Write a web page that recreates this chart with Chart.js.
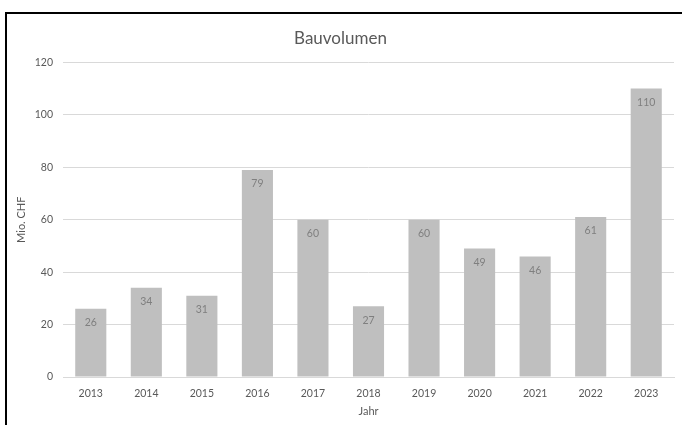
<!DOCTYPE html>
<html>
<head>
<meta charset="utf-8">
<script src="https://cdn.jsdelivr.net/npm/chart.js@4"></script>
<style>
    html, body { margin: 0; padding: 0; background: #fff; overflow: hidden; width: 682px; height: 425px; }
    #frame { position: absolute; left: 5px; top: 12px; width: 686px; height: 420px; border: 2px solid #000; background: #fff; }
    #frame canvas { display: block; }
</style>
</head>
<body>
<div id="frame"><canvas id="bauChart" width="686" height="420"></canvas></div>
<script>
// Bauvolumen pro Jahr (Mio. CHF)
const years = ['2013', '2014', '2015', '2016', '2017', '2018', '2019', '2020', '2021', '2022', '2023'];
const volumes = [26, 34, 31, 79, 60, 27, 60, 49, 46, 61, 110];

const FONT = 'Lato, "Open Sans", sans-serif';

// value labels inside the top of each bar
const barLabels = {
    id: 'barLabels',
    afterDatasetsDraw: (chart) => {
        const {ctx} = chart;
        const meta = chart.getDatasetMeta(0);
        ctx.save();
        ctx.font = '10.5px ' + FONT;
        ctx.fillStyle = '#7f7f7f';
        ctx.textAlign = 'center';
        ctx.textBaseline = 'middle';
        meta.data.forEach((bar, i) => {
            ctx.fillText(String(volumes[i]), bar.x, bar.y + 14);
        });
        ctx.restore();
    }
};

const ctx = document.getElementById('bauChart').getContext('2d');
new Chart(ctx, {
    type: 'bar',
    data: {
        labels: years,
        datasets: [{
            data: volumes,
            backgroundColor: '#bfbfbf',
            borderWidth: 0,
            categoryPercentage: 1,
            barPercentage: 0.56
        }]
    },
    options: {
        responsive: false,
        animation: false,
        layout: { padding: { left: 0, right: 19, top: 0, bottom: 0 } },
        plugins: {
            legend: { display: false },
            tooltip: { enabled: false },
            title: {
                display: true,
                text: 'Bauvolumen',
                color: '#595959',
                font: { family: FONT, size: 17, weight: 'normal' },
                padding: { top: 14, bottom: 14 }
            }
        },
        scales: {
            x: {
                grid: { display: false },
                border: { display: true, color: '#d9d9d9' },
                ticks: { color: '#595959', font: { family: FONT, size: 10.5 }, padding: 2, maxRotation: 0 },
                title: { display: true, text: 'Jahr', color: '#595959', font: { family: FONT, size: 11 }, padding: { top: 16, bottom: 16 } },
                afterFit: (scale) => { scale.height = 57; }
            },
            y: {
                min: 0,
                max: 120,
                ticks: { stepSize: 20, color: '#595959', font: { family: FONT, size: 10.5 }, padding: 10 },
                grid: { color: '#d9d9d9', drawTicks: false },
                border: { display: false },
                title: { display: true, text: 'Mio. CHF', color: '#595959', font: { family: FONT, size: 11 }, padding: { top: 8, bottom: 0 } },
                afterFit: (scale) => { scale.width = 56; }
            }
        }
    },
    plugins: [barLabels]
});
</script>
</body>
</html>
